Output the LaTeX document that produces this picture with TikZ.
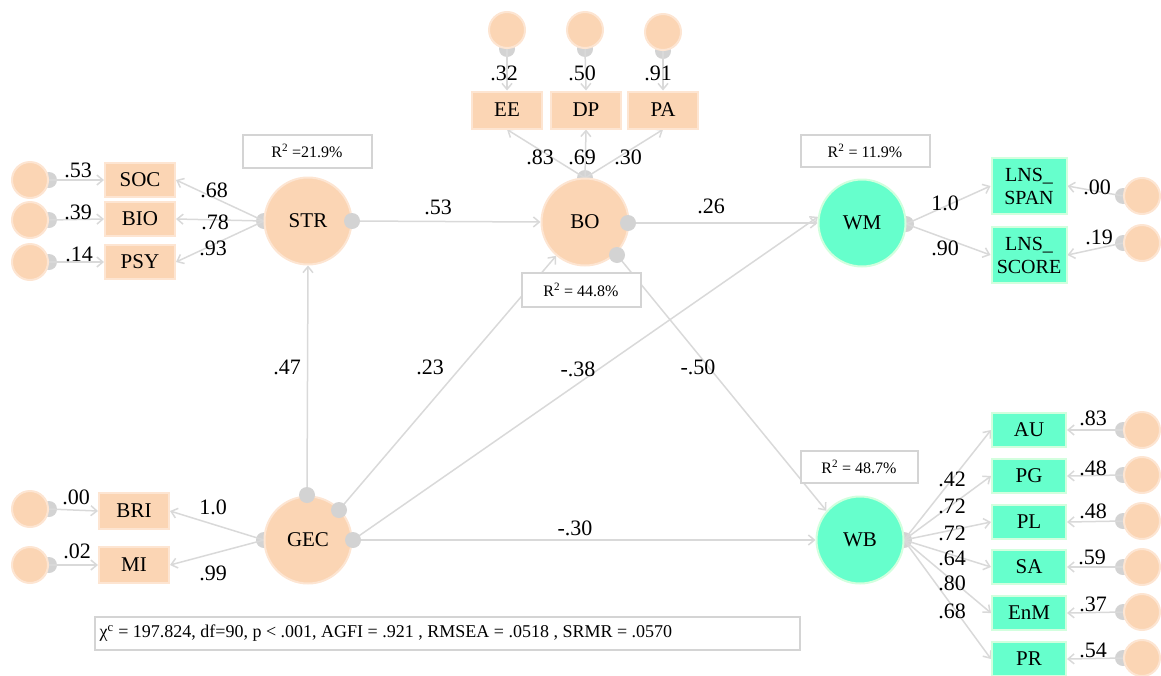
\documentclass[tikz,border=0pt]{standalone}
\usepackage{fontspec}
\setmainfont{Liberation Serif}
\usetikzlibrary{arrows.meta}
\pgfdeclarelayer{bg}
\pgfsetlayers{bg,main}
\definecolor{peach}{RGB}{251,213,180}
\definecolor{peachb}{RGB}{253,229,210}
\definecolor{mint}{RGB}{102,255,204}
\definecolor{mintb}{RGB}{210,255,222}
\definecolor{ln}{RGB}{217,217,217}
\definecolor{nubc}{RGB}{211,211,211}
\definecolor{rbox}{RGB}{212,212,212}
\newcommand{\myfs}[1]{\fontsize{#1}{#1}\selectfont}
\begin{document}
\begin{tikzpicture}[x=1pt,y=-1pt,
 lat/.style={circle,fill=peach,draw=peachb,line width=2pt,minimum size=87pt,inner sep=0pt,font=\myfs{21}},
 latg/.style={lat,fill=mint,draw=mintb},
 err/.style={circle,fill=peach,draw=peachb,line width=2pt,minimum size=36pt,inner sep=0pt},
 ind/.style={rectangle,fill=peach,draw=peachb,line width=2pt,minimum width=70pt,minimum height=34pt,inner sep=0pt,font=\myfs{21}},
 indg/.style={ind,fill=mint,draw=mintb},
 nub/.style={circle,fill=nubc,inner sep=0pt,minimum size=16pt},
 lab/.style={font=\myfs{22},inner sep=0pt},
 rsq/.style={rectangle,draw=rbox,line width=2pt,fill=white,font=\myfs{16},inner sep=0pt},
 arr/.style={draw=ln,line width=1.5pt,-{Straight Barb[length=6pt,width=10pt]}},
]
\useasboundingbox (0,0) rectangle (1161,675);
% latent variables
\node[lat] (STR) at (308,221) {STR};
\node[lat] (BO) at (585,222) {BO};
\node[lat] (GEC) at (308,540) {GEC};
\node[latg] (WM) at (862,223) {WM};
\node[latg] (WB) at (860,540) {WB};
% STR indicators
\node[ind] (SOC) at (140,180) {SOC};
\node[ind] (BIO) at (140,219) {BIO};
\node[ind] (PSY) at (140,262) {PSY};
\node[err] (eSOC) at (30,180) {};
\node[err] (eBIO) at (30,220) {};
\node[err] (ePSY) at (30,262) {};
% BO indicators
\node[ind,minimum height=37pt] (EE) at (507,110) {EE};
\node[ind,minimum height=37pt] (DP) at (586,110) {DP};
\node[ind,minimum height=37pt] (PA) at (663,110) {PA};
\node[err] (eEE) at (507,30) {};
\node[err] (eDP) at (585,30) {};
\node[err] (ePA) at (663,32) {};
% GEC indicators
\node[ind,minimum height=36pt] (BRI) at (134,511) {BRI};
\node[ind,minimum height=36pt] (MI) at (134,565) {MI};
\node[err] (eBRI) at (30,509) {};
\node[err] (eMI) at (30,565) {};
% WM indicators
\node[indg,minimum width=75pt,minimum height=56pt,align=center,font=\fontsize{20}{23}\selectfont] (SPAN) at (1029,186) {LNS\_\\SPAN};
\node[indg,minimum width=75pt,minimum height=56pt,align=center,font=\fontsize{20}{23}\selectfont] (SCORE) at (1029,255) {LNS\_\\SCORE};
\node[err] (eSPAN) at (1142,196) {};
\node[err] (eSCORE) at (1142,243) {};
% WB indicators
\node[indg,minimum width=74pt] (AU) at (1029,430) {AU};
\node[indg,minimum width=74pt] (PG) at (1029,476) {PG};
\node[indg,minimum width=74pt] (PL) at (1029,522) {PL};
\node[indg,minimum width=74pt] (SA) at (1029,567) {SA};
\node[indg,minimum width=74pt] (EnM) at (1029,613) {EnM};
\node[indg,minimum width=74pt] (PR) at (1029,659) {PR};
\node[err] (eAU) at (1142,430) {};
\node[err] (ePG) at (1142,475) {};
\node[err] (ePL) at (1142,521) {};
\node[err] (eSA) at (1142,567) {};
\node[err] (eEnM) at (1142,612) {};
\node[err] (ePR) at (1142,658) {};
% R-square boxes
\node[rsq,minimum width=129pt,minimum height=33pt] (rSTR) at (307,151) {R\textsuperscript{2} =21.9\%};
\node[rsq,minimum width=119pt,minimum height=34pt] (rBO) at (581,290) {R\textsuperscript{2} = 44.8\%};
\node[rsq,minimum width=129pt,minimum height=32pt] (rWM) at (865,151) {R\textsuperscript{2} = 11.9\%};
\node[rsq,minimum width=117pt,minimum height=32pt] (rWB) at (859,467) {R\textsuperscript{2} = 48.7\%};
% fit box
\node[rsq,minimum width=705pt,minimum height=33pt] (fit) at (447,633) {};
\node[font=\myfs{18},inner sep=0pt,anchor=west] (fittxt) at ([xshift=6pt]fit.west) {χ\textsuperscript{c} = 197.824, df=90, p < .001, AGFI = .921 , RMSEA = .0518 , SRMR = .0570};
% top nubs
\node[nub] (STRr) at (352,221) {};
\node[nub] (BOr) at (628,223) {};
\node[nub] (BOd) at (617,255) {};
\node[nub] (GECt) at (307,495) {};
\node[nub] (GECu) at (339,510) {};
\node[nub] (GECr) at (353,540) {};
\begin{pgfonlayer}{bg}
 % hidden nubs
 \node[nub] (STRl) at (264,221) {};
 \node[nub] (BOt) at (585,178) {};
 \node[nub] (GECl) at (264,540) {};
 \node[nub] (WMr) at (906,224) {};
 \node[nub] (WBr) at (904,540) {};
 \foreach \e in {eSOC,eBIO,ePSY,eBRI,eMI}{\node[nub] (\e n) at (\e.east) {};}
 \foreach \e in {eEE,eDP,ePA}{\node[nub] (\e n) at (\e.south) {};}
 \foreach \e in {eSPAN,eSCORE,eAU,ePG,ePL,eSA,eEnM,ePR}{\node[nub] (\e n) at (\e.west) {};}
 % error arrows
 \foreach \i in {SOC,BIO,PSY,BRI,MI}{\draw[arr] (e\i n.center) -- (\i.west);}
 \foreach \i in {EE,DP,PA}{\draw[arr] (e\i n.center) -- (\i.north);}
 \foreach \i in {SPAN,SCORE,AU,PG,PL,SA,EnM,PR}{\draw[arr] (e\i n.center) -- (\i.east);}
 % loadings
 \foreach \i in {SOC,BIO,PSY}{\draw[arr] (STRl.center) -- (\i.east);}
 \foreach \i in {EE,DP,PA}{\draw[arr] (BOt.center) -- (\i.south);}
 \foreach \i in {BRI,MI}{\draw[arr] (GECl.center) -- (\i.east);}
 \foreach \i in {SPAN,SCORE}{\draw[arr] (WMr.center) -- (\i.west);}
 \foreach \i in {AU,PG,PL,SA,EnM,PR}{\draw[arr] (WBr.center) -- (\i.west);}
 % structural paths
 \draw[arr] (STRr.center) -- (BO.west);
 \draw[arr] (GECt.center) -- (STR.south);
 \draw[arr] (GECu.center) -- (BO);
 \draw[arr] (GECr.center) -- (WM.172);
 \draw[arr] (GECr.center) -- (WB.west);
 \draw[arr] (BOr.center) -- (WM.west);
 \draw[arr] (BOd.center) -- (WB.139);
\end{pgfonlayer}
% labels
\node[lab] (l1) at (78,170) {.53};
\node[lab] (l2) at (78,212) {.39};
\node[lab] (l3) at (79,254) {.14};
\node[lab] (l4) at (214,190) {.68};
\node[lab] (l5) at (215,222) {.78};
\node[lab] (l6) at (213,248) {.93};
\node[lab] (l7) at (504,73) {.32};
\node[lab] (l8) at (582,73) {.50};
\node[lab] (l9) at (658,73) {.91};
\node[lab] (l10) at (540,157) {.83};
\node[lab] (l11) at (582,157) {.69};
\node[lab] (l12) at (628,157) {.30};
\node[lab] (l13) at (438,207) {.53};
\node[lab] (l14) at (711,206) {.26};
\node[lab] (l15) at (945,203) {1.0};
\node[lab] (l16) at (945,248) {.90};
\node[lab] (l17) at (1097,187) {.00};
\node[lab] (l18) at (1099,237) {.19};
\node[lab] (l19) at (287,367) {.47};
\node[lab] (l20) at (430,367) {.23};
\node[lab] (l21) at (578,369) {-.38};
\node[lab] (l22) at (698,367) {-.50};
\node[lab] (l23) at (575,528) {-.30};
\node[lab] (l24) at (76,497) {.00};
\node[lab] (l25) at (77,551) {.02};
\node[lab] (l26) at (213,507) {1.0};
\node[lab] (l27) at (213,573) {.99};
\node[lab] (l28) at (952,479) {.42};
\node[lab] (l29) at (952,506) {.72};
\node[lab] (l30) at (952,533) {.72};
\node[lab] (l31) at (952,558) {.64};
\node[lab] (l32) at (952,583) {.80};
\node[lab] (l33) at (952,611) {.68};
\node[lab] (l34) at (1093,418) {.83};
\node[lab] (l35) at (1093,468) {.48};
\node[lab] (l36) at (1093,511) {.48};
\node[lab] (l37) at (1092,557) {.59};
\node[lab] (l38) at (1093,604) {.37};
\node[lab] (l39) at (1093,650) {.54};
\end{tikzpicture}
\end{document}
